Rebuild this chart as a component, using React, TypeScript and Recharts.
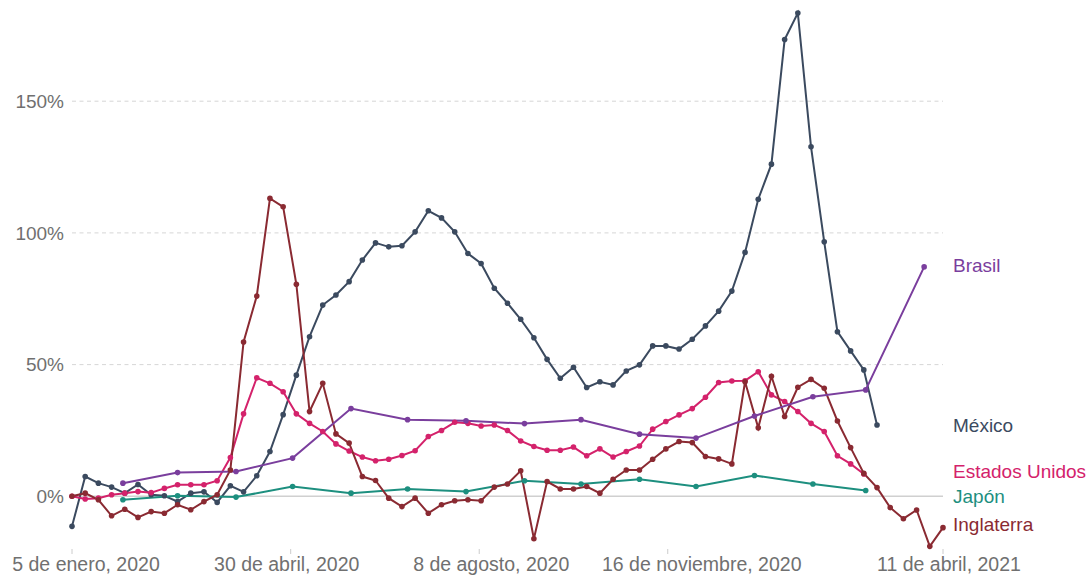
import { Line, LineChart, ReferenceLine, XAxis, YAxis } from "recharts";

const START = Date.UTC(2020, 0, 5);
const DAY = 86400000;
const dayOf = (iso: string) => Math.round((Date.parse(iso) - START) / DAY);

const xTickDates = ["2020-01-05", "2020-04-30", "2020-08-08", "2020-11-16", "2021-04-11"];
const xTickLabels = [
  "5 de enero, 2020",
  "30 de abril, 2020",
  "8 de agosto, 2020",
  "16 de noviembre, 2020",
  "11 de abril, 2021",
];
const yTicks = [0, 50, 100, 150];

// weekly excess deaths (%), first week = 5 Jan 2020
const mexico = [
  -11.4, 7.5, 5, 3.5, 1.2, 4.5, 0.6, 0.2, -2, 1.2, 1.7, -2.3, 4, 1.7, 7.8, 17, 31, 46, 60.6, 72.6,
  76.4, 81.5, 89.7, 96.2, 94.7, 95.1, 100.4, 108.4, 105.7, 100.4, 92.2, 88.4, 79, 73.3, 67.2, 60.2,
  52, 44.8, 49, 41.3, 43.5, 42.3, 47.6, 49.9, 57.1, 57.1, 55.9, 59.6, 64.7, 70.3, 77.9, 92.6, 112.8,
  126.1, 173.4, 183.5, 132.7, 96.6, 62.5, 55.2, 48, 27.1,
];
const estadosUnidos = [
  0, -1, -0.7, 0.6, 1.2, 1.8, 1.4, 3, 4.4, 4.4, 4.4, 5.9, 14.7, 31.3, 45, 42.9, 39.7, 31.3, 27.7,
  24.6, 19.9, 17.2, 14.9, 13.5, 14.1, 15.5, 17.3, 22.7, 25, 28.1, 27.7, 26.7, 27.1, 25, 21, 18.9,
  17.5, 17.5, 18.7, 15.4, 18, 14.9, 17, 19.1, 25.5, 28.4, 30.9, 33.3, 37.6, 43.2, 43.8, 43.9, 47.3,
  38.5, 36, 32.2, 27.7, 24.6, 15.4, 12.3, 8.5,
];
const inglaterra = [
  0, 1.2, -1.3, -7.4, -4.9, -8, -5.8, -6.4, -3.2, -5.1, -2, 0.6, 10, 58.6, 76, 113.1, 109.9, 80.5,
  32.2, 42.9, 23.7, 20.2, 7.5, 6, -0.7, -3.9, -0.7, -6.4, -3.2, -1.7, -1.3, -1.7, 3.5, 4.7, 9.7,
  -16.1, 5.6, 2.8, 2.8, 3.7, 1.2, 6.5, 10, 10, 14.1, 18, 20.8, 20.4, 15.1, 14.2, 12.3, 43.5, 26,
  45.6, 30.3, 41.4, 44.4, 41, 28.6, 18.5, 8.7, 3.3, -4.3, -8.5, -5.2, -19, -11.9,
];

// monthly excess deaths (%)
const monthDates = [
  "2020-02-01", "2020-03-01", "2020-04-01", "2020-05-01", "2020-06-01", "2020-07-01", "2020-08-01",
  "2020-09-01", "2020-10-01", "2020-11-01", "2020-12-01", "2021-01-01", "2021-02-01", "2021-03-01",
  "2021-04-01",
];
const brasil = [5, 9, 9.4, 14.5, 33.3, 29.1, 28.7, 27.6, 29.1, 23.6, 22.1, 30.5, 37.8, 40.4, 87.1];
const japon = [-1.3, 0.2, -0.3, 3.7, 1.2, 2.8, 1.8, 5.9, 4.7, 6.5, 3.7, 7.9, 4.7, 2.2];

const weekly = (values: number[]) => values.map((v, i) => ({ day: i * 7, value: v }));
const monthly = (values: number[]) => values.map((v, i) => ({ day: dayOf(monthDates[i]), value: v }));

const xTicks = xTickDates.map(dayOf);
const xTickShift = [14, -4, 12, 34, 6];

const FONT = "'Liberation Sans', Arial, Helvetica, sans-serif";
const LABEL_X = 953;

const series = [
  { name: "México", color: "#3b4a5f", data: weekly(mexico), nudge: 0 },
  { name: "Japón", color: "#1d8f7f", data: monthly(japon), nudge: 6 },
  { name: "Estados Unidos", color: "#d4226b", data: weekly(estadosUnidos), nudge: -3 },
  { name: "Inglaterra", color: "#8a2a32", data: weekly(inglaterra), nudge: -3 },
  { name: "Brasil", color: "#7a3e9d", data: monthly(brasil), nudge: -2 },
];

type Series = (typeof series)[number];

const makeDot = (s: Series) => (props: any) => {
  const { cx, cy, index } = props;
  const last = index === s.data.length - 1;
  return (
    <g key={`${s.name}-${index}`}>
      <circle cx={cx} cy={cy} r={2.8} fill={s.color} />
      {last && (
        <text x={LABEL_X} y={cy + s.nudge} dy="0.35em" fill={s.color} fontSize={19} fontFamily={FONT}>
          {s.name}
        </text>
      )}
    </g>
  );
};

const DateTick = (props: any) => {
  const { x, y, payload, index } = props;
  const i = xTicks.indexOf(payload.value);
  return (
    <text
      x={x + (xTickShift[index] ?? 0)}
      y={y}
      dy="0.71em"
      textAnchor="middle"
      fill="#707070"
      fontSize={19.5}
      fontFamily={FONT}
    >
      {xTickLabels[i]}
    </text>
  );
};

export default function App() {
  return (
    <div style={{ width: 1090, height: 582, background: "#fff" }}>
      <style>{"body{margin:0}"}</style>
      <LineChart width={1090} height={582} margin={{ top: 9, right: 147, bottom: 0, left: 0 }}>
        {yTicks
          .filter((t) => t !== 0)
          .map((t) => (
            <ReferenceLine key={t} y={t} stroke="#d6d6d6" strokeDasharray="4 3.5" />
          ))}
        <ReferenceLine y={0} stroke="#d0d0d0" strokeWidth={1.5} />
        <XAxis
          type="number"
          dataKey="day"
          domain={[0, 462]}
          ticks={xTicks}
          interval={0}
          axisLine={false}
          tickLine={{ stroke: "#cccccc" }}
          tickSize={5}
          tickMargin={3}
          height={33}
          tick={<DateTick />}
        />
        <YAxis
          type="number"
          domain={[-20, 185]}
          ticks={yTicks}
          interval={0}
          width={72}
          axisLine={false}
          tickLine={false}
          tickFormatter={(v) => `${v}%`}
          tick={{ fill: "#707070", fontSize: 19, fontFamily: FONT }}
        />
        {series.map((s) => (
          <Line
            key={s.name}
            data={s.data}
            dataKey="value"
            type="linear"
            stroke={s.color}
            strokeWidth={2}
            dot={makeDot(s)}
            activeDot={false}
            isAnimationActive={false}
          />
        ))}
      </LineChart>
    </div>
  );
}
